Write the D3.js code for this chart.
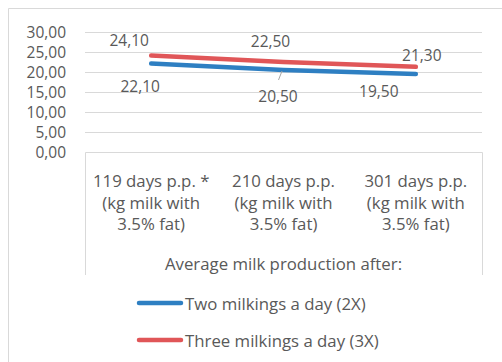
<!DOCTYPE html>
<html>
<head>
<meta charset="utf-8">
<script src="https://cdn.jsdelivr.net/npm/d3@7"></script>
<style>
  html, body { margin: 0; padding: 0; background: #fff; }
  svg text { font-family: "Open Sans", sans-serif; fill: #595959; }
</style>
</head>
<body>
<svg id="chart" width="502" height="362"></svg>
<script>
// Categories (multi-line axis labels) and the two series
const categories = [
  ["119 days p.p. *", "(kg milk with", "3.5% fat)"],
  ["210 days p.p.", "(kg milk with", "3.5% fat)"],
  ["301 days p.p.", "(kg milk with", "3.5% fat)"]
];
const seriesNames = ["Two milkings a day (2X)", "Three milkings a day (3X)"];
const twoMilkings = [22.1, 20.5, 19.5];
const threeMilkings = [24.1, 22.5, 21.3];
const yTicks = [0, 5, 10, 15, 20, 25, 30];
const axisTitle = "Average milk production after:";

const colors = ["#2e7fc2", "#e05658"];
const fmt = v => d3.format(".2f")(v).replace(".", ",");

const svg = d3.select("#chart");
const W = 502, H = 362;

// outer chart frame (open on the right and bottom)
svg.append("path")
  .attr("d", `M8.5,${H} V8.5 H${W}`)
  .attr("fill", "none").attr("stroke", "#d9d9d9").attr("stroke-width", 1);

const plot = { left: 85, right: 482, top: 32, bottom: 152 };

const x = d3.scaleBand().domain(d3.range(categories.length))
  .range([plot.left, plot.right]).padding(0);
const y = d3.scaleLinear().domain([0, 30]).range([plot.bottom, plot.top]);

// horizontal gridlines
svg.append("g").selectAll("line").data(yTicks.filter(t => t > 0)).join("line")
  .attr("x1", plot.left).attr("x2", plot.right)
  .attr("y1", d => Math.round(y(d)) + 0.5).attr("y2", d => Math.round(y(d)) + 0.5)
  .attr("stroke", "#d9d9d9").attr("stroke-width", 1);

// y axis tick labels
const yAxis = d3.axisLeft(y).tickValues(yTicks).tickFormat(fmt).tickSize(0).tickPadding(0);
const gy = svg.append("g").attr("transform", `translate(66,0.5)`).call(yAxis);
gy.select(".domain").remove();
gy.selectAll("text").attr("font-size", 15.5).attr("fill", "#595959")
  .attr("font-family", "Open Sans, sans-serif");

// category box (axis line across the top, separators on the outer sides)
const boxBottom = 275;
svg.append("path")
  .attr("d", `M${plot.left + 0.5},${boxBottom} V${plot.bottom + 0.5} H${plot.right + 0.5} V${boxBottom}`)
  .attr("fill", "none").attr("stroke", "#d9d9d9").attr("stroke-width", 1);

// category labels
const catG = svg.append("g");
categories.forEach((lines, i) => {
  const t = catG.append("text")
    .attr("x", x(i) + x.bandwidth() / 2).attr("y", 180)
    .attr("dominant-baseline", "central")
    .attr("text-anchor", "middle").attr("font-size", 16.8);
  lines.forEach((ln, j) => {
    t.append("tspan").attr("x", x(i) + x.bandwidth() / 2)
      .attr("dy", j === 0 ? 0 : 21.5).text(ln);
  });
});

// axis title
svg.append("text").attr("x", (plot.left + plot.right) / 2).attr("y", 263)
  .attr("dominant-baseline", "central")
  .attr("text-anchor", "middle").attr("font-size", 16.8).text(axisTitle);

// lines
const line = d3.line().x((d, i) => x(i) + x.bandwidth() / 2).y(d => y(d));
[twoMilkings, threeMilkings].forEach((s, k) => {
  svg.append("path").datum(s).attr("d", line)
    .attr("fill", "none").attr("stroke", colors[k])
    .attr("stroke-width", 4.5).attr("stroke-linecap", "round").attr("stroke-linejoin", "round");
});

// data labels, nudged from each point
const labelNudge = [
  [[-11, 22], [-5.5, 26], [-37, 17]],   // two milkings: below
  [[-22, -15.5], [-13, -21], [6, -12]]  // three milkings: above
];
[twoMilkings, threeMilkings].forEach((s, k) => {
  s.forEach((v, i) => {
    const px = x(i) + x.bandwidth() / 2, py = y(v);
    const [dx, dy] = labelNudge[k][i];
    svg.append("text").attr("x", px + dx).attr("y", py + dy)
      .attr("text-anchor", "middle").attr("dominant-baseline", "central")
      .attr("font-size", 15.5).text(fmt(v));
  });
});

// leader line for the middle lower label
{
  const px = x(1) + x.bandwidth() / 2, py = y(twoMilkings[1]);
  svg.append("line").attr("x1", px - 1.5).attr("y1", py + 1)
    .attr("x2", px - 5).attr("y2", py + 10)
    .attr("stroke", "#a6a6a6").attr("stroke-width", 1);
}

// legend
const lg = svg.append("g");
seriesNames.forEach((name, k) => {
  const ly = 303 + k * 37;
  lg.append("line").attr("x1", 139).attr("x2", 181).attr("y1", ly).attr("y2", ly)
    .attr("stroke", colors[k]).attr("stroke-width", 4.5).attr("stroke-linecap", "round");
  lg.append("text").attr("x", 185).attr("y", ly).attr("dominant-baseline", "central")
    .attr("font-size", 16.8).text(name);
});
</script>
</body>
</html>
